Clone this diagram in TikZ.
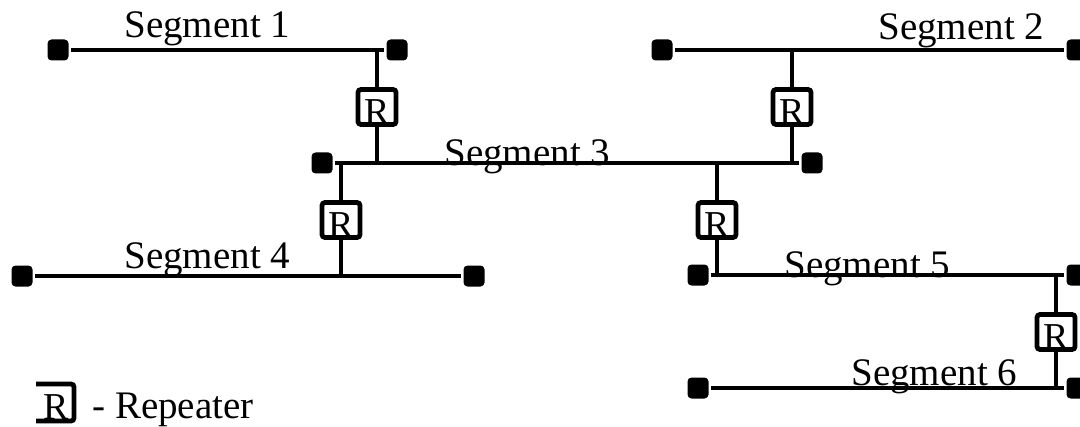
\documentclass[tikz,border=0pt]{standalone}
\usepackage{fontspec}
\setmainfont{Liberation Serif}
\usepackage{tikz}
\usetikzlibrary{positioning,calc}

\begin{document}
\begin{tikzpicture}[x=0.5pt,y=-0.5pt,line width=2.4pt,
	term/.style={fill=black,draw=none,rounded corners=2pt,minimum size=10.5pt,inner sep=0pt},
	rep/.style={draw,rounded corners=1.5pt,minimum width=19pt,minimum height=17.5pt,inner sep=0pt,
		label={[anchor=base,inner sep=0pt,yshift=1pt,font=\fontsize{19}{19}\selectfont]south:R}},
	seglabel/.style={anchor=base west,inner sep=0pt,font=\fontsize{19.5}{20}\selectfont}]
	\useasboundingbox (0,0) rectangle (1080,427);

	% labels first, the cables run over them
	\node[seglabel] (l1) at (122,38) {Segment 1};
	\node[seglabel] (l2) at (876,40) {Segment 2};
	\node[seglabel] (l3) at (442,166) {Segment 3};
	\node[seglabel] (l4) at (122,268) {Segment 4};
	\node[seglabel] (l5) at (782,278) {Segment 5};
	\node[seglabel] (l6) at (849,385) {Segment 6};

	% terminators
	\node[term] (s1a) at (58,50) {};   \node[term] (s1b) at (397,50) {};
	\node[term] (s2a) at (662,50) {};  \node[term] (s2b) at (1077,50) {};
	\node[term] (s3a) at (322,163) {}; \node[term] (s3b) at (812,163) {};
	\node[term] (s4a) at (22,276) {};  \node[term] (s4b) at (474,276) {};
	\node[term] (s5a) at (698,275) {}; \node[term] (s5b) at (1077,275) {};
	\node[term] (s6a) at (698,388) {}; \node[term] (s6b) at (1077,388) {};

	\draw (s1a)--(s1b);
	\draw (s2a)--(s2b);
	\draw (s3a)--(s3b);
	\draw (s4a)--(s4b);
	\draw (s5a)--(s5b);
	\draw (s6a)--(s6b);

	% repeaters
	\node[rep] (r1) at (377,107) {};
	\node[rep] (r2) at (792,107) {};
	\node[rep] (r3) at (341,220) {};
	\node[rep] (r4) at (717,220) {};
	\node[rep] (r5) at (1056,332) {};

	\draw (r1.north)--(r1.north |- s1a); \draw (r1.south)--(r1.south |- s3a);
	\draw (r2.north)--(r2.north |- s2a); \draw (r2.south)--(r2.south |- s3a);
	\draw (r3.north)--(r3.north |- s3a); \draw (r3.south)--(r3.south |- s4a);
	\draw (r4.north)--(r4.north |- s3a); \draw (r4.south)--(r4.south |- s5a);
	\draw (r5.north)--(r5.north |- s5a); \draw (r5.south)--(r5.south |- s6a);

	% legend
	\node[anchor=base,inner sep=0pt,font=\fontsize{19}{19}\selectfont] (legR) at (56,419) {R};
	\draw[rounded corners=1.5pt] (36,384)--(74,384)--(74,421)--(36,421);
	\node[seglabel] (legtext) at (90,418) {- Repeater};
\end{tikzpicture}
\end{document}
